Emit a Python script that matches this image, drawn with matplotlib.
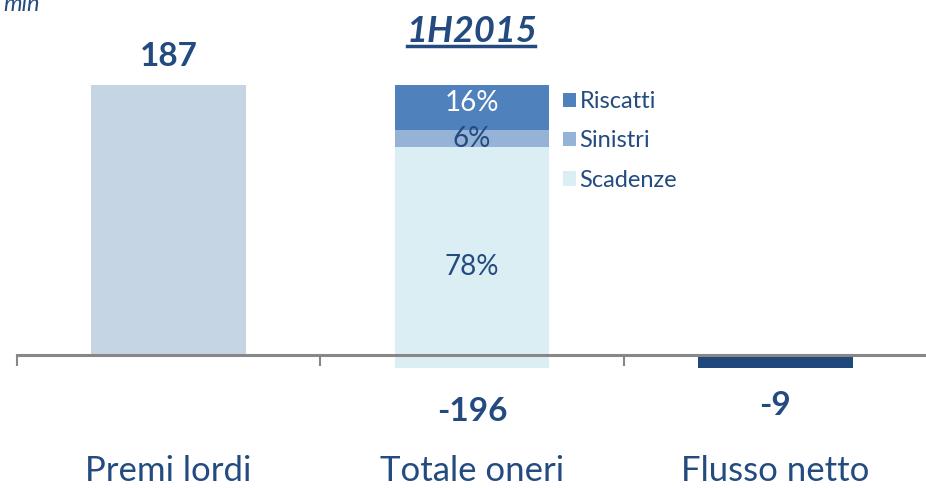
import matplotlib
matplotlib.use("Agg")
import matplotlib.pyplot as plt

categories = ["Premi lordi", "Totale oneri", "Flusso netto"]
values = [187, -196, -9]
value_labels = ["187", "-196", "-9"]
seg_names = ["Scadenze", "Sinistri", "Riscatti"]
seg_shares = [0.78, 0.06, 0.16]
seg_labels = ["78%", "6%", "16%"]
title = "1H2015"
unit = "mln"

navy = "#1F497D"
txt = "#234B7F"
c_premi = "#C5D5E4"
seg_colors = ["#DAEEF3", "#95B3D7", "#4F81BD"]
seg_text_colors = [txt, txt, "white"]
seg_text_offsets = [-6.5, 0, 3]

plt.rcParams['font.family'] = ['Lato', 'DejaVu Sans']

W, H = 926, 488
fig = plt.figure(figsize=(W / 100, H / 100), dpi=100)
ppu = (355 - 85) / 187.0
ymax = 355 / ppu
ymin = -(H - 355) / ppu
ax = fig.add_axes([17 / W, 0, 910 / W, 1])
ax.set_xlim(-0.5, 2.5)
ax.set_ylim(ymin, ymax)

bw = 0.51
ax.bar(0, values[0], width=bw, color=c_premi, zorder=1)
base = values[0] + values[1]
total = -values[1]
bottom = base
seg_patches = []
for name, share, col, lab, tc, off in zip(seg_names, seg_shares, seg_colors, seg_labels,
                                          seg_text_colors, seg_text_offsets):
    h = share * total
    b = ax.bar(1, h, bottom=bottom, width=bw, color=col, zorder=1, label=name)
    seg_patches.append(b[0])
    ax.annotate(lab, (1, bottom + h / 2), xytext=(0, off), textcoords='offset points',
                ha='center', va='center', color=tc, fontsize=20)
    bottom += h
ax.bar(2, values[2], width=bw, color=navy, zorder=1)

ax.annotate(value_labels[0], (0, values[0]), xytext=(0, 10), textcoords='offset points',
            ha='center', va='bottom', fontsize=24, fontweight='bold', color=txt)
ax.annotate(value_labels[1], (1, base), xytext=(0, -31), textcoords='offset points',
            ha='center', va='center', fontsize=24, fontweight='bold', color=txt)
ax.annotate(value_labels[2], (2, values[2]), xytext=(0, -27), textcoords='offset points',
            ha='center', va='center', fontsize=24, fontweight='bold', color=txt)

for i, c in enumerate(categories):
    ax.text(i, ymin + (H - 471) / ppu, c, ha='center', va='center', fontsize=25, color=txt)

for s in ['top', 'left', 'right']:
    ax.spines[s].set_visible(False)
ax.spines['bottom'].set_position(('data', 0))
ax.spines['bottom'].set_color('#878787')
ax.spines['bottom'].set_linewidth(2.2)
ax.spines['bottom'].set_zorder(3)
ax.set_xticks([-0.5, 0.5, 1.5])
ax.set_xticklabels([])
ax.tick_params(axis='x', direction='out', length=8, width=1.5, color='#878787')
ax.set_yticks([])

handles = seg_patches[::-1]
leg = fig.legend(handles, seg_names[::-1], loc='upper left', bbox_to_anchor=(563 / W, 1 - 91 / H),
                 frameon=False, fontsize=17, handlelength=0.55, handleheight=0.55,
                 handletextpad=0.15, labelspacing=0.78, borderaxespad=0, borderpad=0)
for t in leg.get_texts():
    t.set_color(txt)

fig.text(472 / W, 1 - 31 / H, title, ha='center', va='center', fontsize=26,
         fontweight='bold', fontstyle='italic', color=txt)
fig.add_artist(plt.Line2D([407 / W, 535 / W], [1 - 46 / H, 1 - 46 / H], color=txt, lw=2.5))
fig.text(3 / W, 1 - 11 / H, unit, ha='left', va='baseline', fontsize=17, fontstyle='italic', color=txt)

fig.savefig("out.png", dpi=100)
